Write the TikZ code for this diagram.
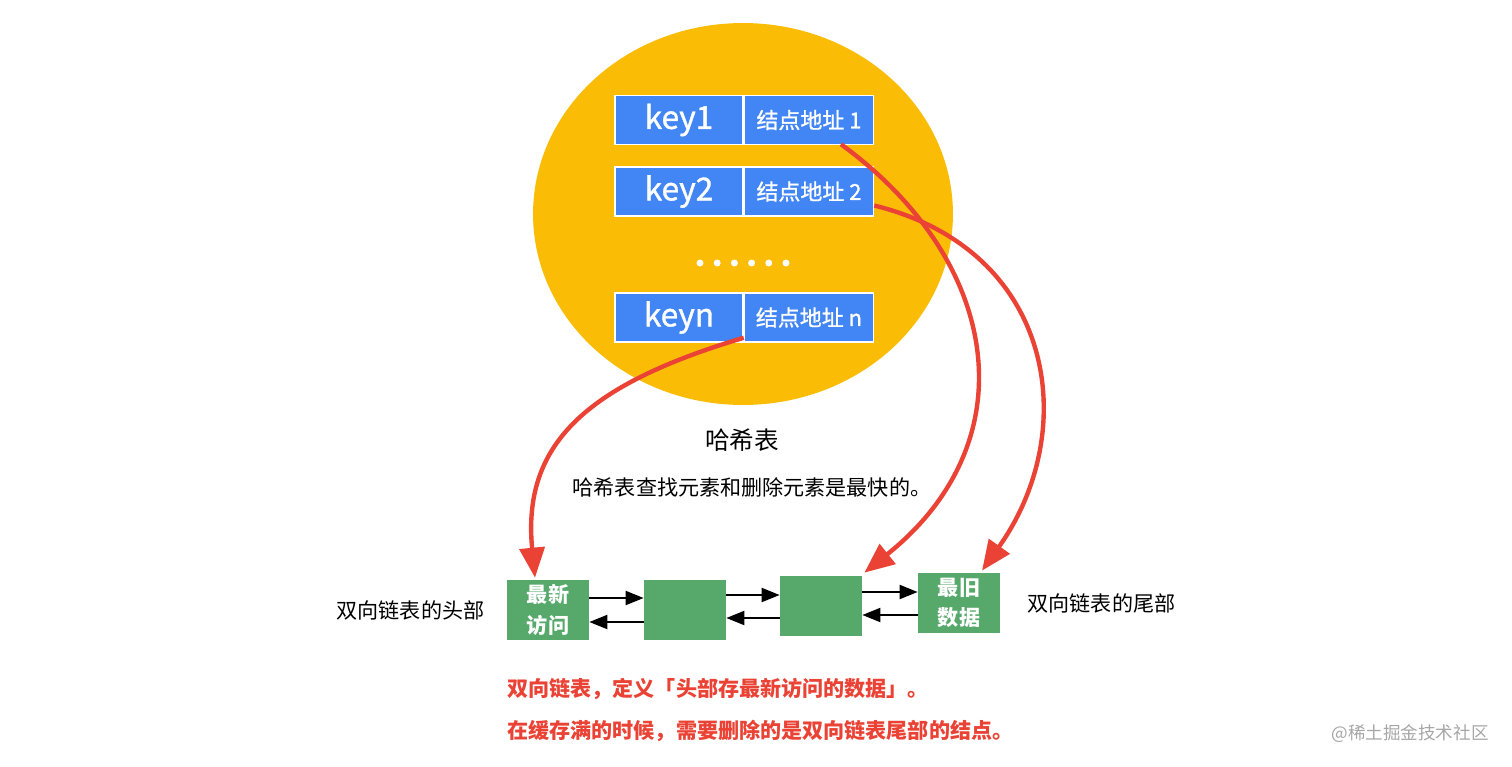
\documentclass[tikz,border=0pt]{standalone}
\usepackage{fontspec}
\setmainfont{Noto Sans CJK SC}
\newfontfamily\cellfont[FakeBold=1.2]{Noto Sans CJK SC}
\usetikzlibrary{arrows.meta,positioning,calc}
\definecolor{hashyellow}{HTML}{FBBC05}
\definecolor{cellblue}{HTML}{4285F4}
\definecolor{listgreen}{HTML}{57A86B}
\definecolor{linkred}{HTML}{EA4335}

\begin{document}
\begin{tikzpicture}[x=0.02cm,y=-0.02cm,
  keycell/.style={draw=white,line width=0.85pt,fill=cellblue,text=white,minimum width=2.56cm,minimum height=0.98cm,inner sep=0pt,font=\cellfont\fontsize{18}{20}\selectfont},
  addrcell/.style={keycell,minimum width=2.58cm,font=\cellfont\fontsize{12.5}{14}\selectfont},
  listbox/.style={fill=listgreen,text=white,minimum width=1.64cm,minimum height=1.2cm,inner sep=0pt,align=center,font=\fontsize{12}{17.5}\selectfont\bfseries},
  link/.style={-{Triangle[length=0.36cm,width=0.28cm]},line width=1.1pt},
  hit/.style={-{Triangle[length=0.6cm,width=0.5cm]},linkred,line width=2.5pt},
  txt/.style={inner sep=0pt,font=\fontsize{12}{14}\selectfont},
  note/.style={txt,text=linkred,font=\fontsize{12}{14}\selectfont\bfseries,anchor=west}]
\useasboundingbox (0,0) rectangle (1512,767);
% hash table
\fill[hashyellow] (743,214) ellipse [x radius=4.2cm,y radius=3.82cm];
\node[keycell] (key1) at (679,120) {key1};
\node[addrcell,right=0pt of key1] (addr1) {结点地址 1};
\node[keycell] (key2) at (679,191.5) {key2};
\node[addrcell,right=0pt of key2] (addr2) {结点地址 2};
\foreach \i in {0,...,5} \fill[white] (700+17.2*\i,263) circle (0.07cm);
\node[keycell] (keyn) at (679,317.5) {keyn};
\node[addrcell,right=0pt of keyn] (addrn) {结点地址 n};
\node[txt,font=\fontsize{14}{16}\selectfont] (title) at (742,440) {哈希表};
\node[txt] (desc) at (752,487) {哈希表查找元素和删除元素是最快的。};
% doubly linked list
\node[listbox] (head) at (548,610) {最新\\访问};
\node[listbox] (mid1) at (685,610) {};
\node[listbox] (mid2) at (821,606) {};
\node[listbox] (tail) at (959,603) {最旧\\数据};
\node[txt,left=0.44cm of head] (headlbl) {双向链表的头部};
\node[txt,right=0.54cm of tail] (taillbl) {双向链表的尾部};
% forward links
\draw[link] ($(head.east)+(0,-12)$) coordinate (f1) -- (f1 -| mid1.west);
\draw[link] ($(mid1.east)+(0,-15)$) coordinate (f2) -- (f2 -| mid2.west);
\draw[link] ($(mid2.east)+(0,-14)$) coordinate (f3) -- (f3 -| tail.west);
% backward links
\draw[link] ($(mid1.west)+(0,12)$) coordinate (b1) -- (b1 -| head.east);
\draw[link] ($(mid2.west)+(0,12)$) coordinate (b2) -- (b2 -| mid1.east);
\draw[link] ($(tail.west)+(0,12)$) coordinate (b3) -- (b3 -| mid2.east);
% address -> list node
\draw[hit] ($(addrn.south west)+(0,-5)$) .. controls (585,385) and (522,445) .. ($(head.north)+(-13,-2)$);
\draw[hit] ($(addr1.south)+(32,-1)$) .. controls (1000,260) and (1030,440) .. ($(mid2.north east)+(2,-3)$);
\draw[hit] ($(addr2.east)+(0,14)$) .. controls (1055,250) and (1082,430) .. ($(tail.north)+(23,-2)$);
% notes
\node[note] (note1) at (507,689) {双向链表，定义「头部存最新访问的数据」。};
\node[note] (note2) at (507,731) {在缓存满的时候，需要删除的是双向链表尾部的结点。};
\node[txt,text=gray!70,font=\fontsize{10}{12}\selectfont] (mark) at (1410,734) {@稀土掘金技术社区};
\end{tikzpicture}
\end{document}
